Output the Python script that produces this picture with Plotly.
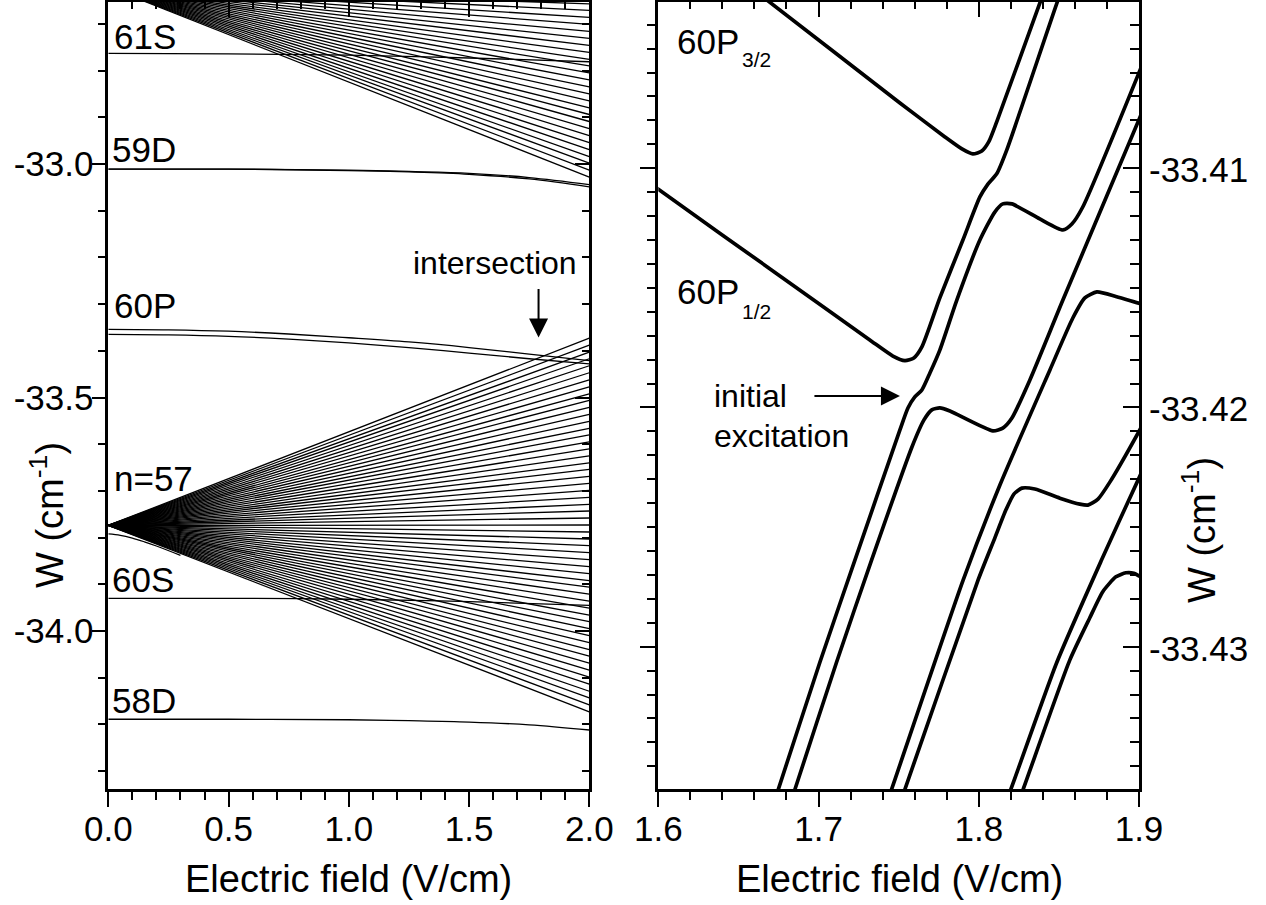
import numpy as np
import plotly.graph_objects as go

FIG_W, FIG_H = 1266, 905
FONT = "Liberation Sans, Arial, Helvetica, sans-serif"

# ---------------- left panel: Stark map, 0-2 V/cm ----------------
# hydrogenic manifolds: common zero-field energy and energies at 2.0 V/cm
n57_origin = -33.774
n57_end = [-33.373, -33.388, -33.403, -33.417, -33.432, -33.447, -33.462, -33.477, -33.492, -33.506,
           -33.521, -33.536, -33.551, -33.566, -33.580, -33.595, -33.610, -33.625, -33.640, -33.654,
           -33.669, -33.684, -33.699, -33.714, -33.729, -33.743, -33.758, -33.773, -33.788, -33.803,
           -33.817, -33.832, -33.847, -33.862, -33.877, -33.892, -33.906, -33.921, -33.936, -33.951,
           -33.966, -33.980, -33.995, -34.010, -34.025, -34.040, -34.054, -34.069, -34.084, -34.099,
           -34.114, -34.129, -34.143, -34.158, -34.173]
n58_origin = -32.621
n58_end = [-33.028, -33.013, -32.998, -32.984, -32.969, -32.954, -32.939, -32.924, -32.909, -32.894,
           -32.880, -32.865, -32.850, -32.835, -32.820, -32.805, -32.790, -32.776, -32.761, -32.746,
           -32.731, -32.716, -32.701, -32.686, -32.671, -32.657]

# low-l states
s61_E = [0.0, 0.5, 1.0, 1.5, 2.0]
s61_W = [-32.763, -32.764, -32.767, -32.773, -32.781]
d59_E = [0.0, 0.5, 1.0, 1.25, 1.5, 1.75, 2.0]
d59a_W = [-33.011, -33.011, -33.014, -33.017, -33.022, -33.032, -33.049]
d59b_W = [-33.011, -33.011, -33.013, -33.016, -33.020, -33.029, -33.044]
p60_E = [0.0, 0.25, 0.5, 0.75, 1.0, 1.25, 1.5, 1.75, 2.0]
p60_32_W = [-33.354, -33.355, -33.358, -33.364, -33.372, -33.381, -33.393, -33.407, -33.421]
p60_12_W = [-33.365, -33.366, -33.369, -33.375, -33.383, -33.393, -33.405, -33.417, -33.428]
f57_E = [0.0, 0.05, 0.1, 0.15, 0.2, 0.3]
f57_W = [-33.792, -33.795, -33.801, -33.809, -33.818, -33.838]
s60_E = [0.0, 0.5, 1.0, 1.5, 2.0]
s60_W = [-33.930, -33.930, -33.932, -33.937, -33.945]
d58_E = [0.0, 0.5, 1.0, 1.25, 1.5, 1.75, 2.0]
d58_W = [-34.189, -34.189, -34.190, -34.192, -34.195, -34.201, -34.212]

# ---------------- right panel: avoided crossings, 1.6-1.9 V/cm ----------------
c1_E = [1.6510, 1.6676, 1.7508, 1.7789, 1.7895, 1.7963, 1.8019, 1.8062, 1.8112, 1.8381, 1.8444]
c1_W = [-33.40213, -33.40296, -33.40727, -33.40869, -33.40919, -33.40940, -33.40928, -33.40890,
        -33.40806, -33.40310, -33.40196]
c2_E = [1.5948, 1.6000, 1.6759, 1.7320, 1.7464, 1.7539, 1.7595, 1.7645, 1.7757, 1.7901, 1.8007,
        1.8057, 1.8113, 1.8175, 1.8495, 1.8543]
c2_W = [-33.41061, -33.41088, -33.41450, -33.41718, -33.41785, -33.41804, -33.41793, -33.41747,
        -33.41542, -33.41300, -33.41120, -33.41066, -33.41022, -33.40923, -33.40296, -33.40213]
c3_E = [1.6697, 1.6749, 1.7009, 1.7227, 1.7508, 1.7558, 1.7601, 1.7645, 1.7695, 1.7757, 1.7863,
        1.8007, 1.8100, 1.8150, 1.8207, 1.8381, 1.8525, 1.8581, 1.8649, 1.8999, 1.9068]
c3_W = [-33.43699, -33.43596, -33.43064, -33.42638, -33.42094, -33.42002, -33.41956, -33.41927,
        -33.41856, -33.41760, -33.41551, -33.41300, -33.41183, -33.41149, -33.41149, -33.41212,
        -33.41258, -33.41233, -33.41162, -33.40602, -33.40485]
c4_E = [1.6803, 1.6853, 1.7113, 1.7331, 1.7583, 1.7658, 1.7707, 1.7757, 1.7820, 1.8088, 1.8150,
        1.8207, 1.8319, 1.8525, 1.8999, 1.9067]
c4_W = [-33.43699, -33.43596, -33.43064, -33.42638, -33.42165, -33.42052, -33.42010, -33.42002,
        -33.42015, -33.42098, -33.42086, -33.42044, -33.41885, -33.41551, -33.40798, -33.40689]
c5_E = [1.7402, 1.7456, 1.7903, 1.8132, 1.8444, 1.8587, 1.8662, 1.8737, 1.8860, 1.8999, 1.9067]
c5_W = [-33.43699, -33.43596, -33.42721, -33.42324, -33.41843, -33.41626, -33.41542, -33.41517,
        -33.41537, -33.41564, -33.41576]
c6_E = [1.7483, 1.7539, 1.7996, 1.8100, 1.8169, 1.8219, 1.8269, 1.8350, 1.8506, 1.8631, 1.8681,
        1.8744, 1.8818, 1.8999, 1.9067]
c6_W = [-33.43699, -33.43596, -33.42721, -33.42546, -33.42429, -33.42362, -33.42337, -33.42341,
        -33.42379, -33.42404, -33.42408, -33.42383, -33.42312, -33.42101, -33.42015]
c7_E = [1.8138, 1.8200, 1.8485, 1.8766, 1.8999, 1.9067]
c7_W = [-33.43699, -33.43596, -33.43069, -33.42638, -33.42296, -33.42199]
c8_E = [1.8219, 1.8277, 1.8568, 1.8693, 1.8774, 1.8856, 1.8918, 1.8968, 1.8999, 1.9067]
c8_W = [-33.43699, -33.43596, -33.43056, -33.42879, -33.42770, -33.42708, -33.42691, -33.42693,
        -33.42704, -33.42725]

# tick labels
left_x_ticks = [0.0, 0.5, 1.0, 1.5, 2.0]
left_x_text = ["0.0", "0.5", "1.0", "1.5", "2.0"]
left_y_ticks = [-34.0, -33.5, -33.0]
left_y_text = ["-34.0", "-33.5", "-33.0"]
right_x_ticks = [1.6, 1.7, 1.8, 1.9]
right_x_text = ["1.6", "1.7", "1.8", "1.9"]
right_y_ticks = [-33.43, -33.42, -33.41]
right_y_text = ["-33.43", "-33.42", "-33.41"]

# ---------------- layout geometry (pixels -> paper) ----------------
def px(x):
    return x / FIG_W


def py(y):
    return 1 - y / FIG_H


X_LEFT = [px(108.3), px(589.3)]
X_RIGHT = [px(658.3), px(1139.0)]
Y_DOM = [py(789.3), py(1.5)]
LEFT_XR = [0.0, 2.0]
LEFT_YR = [-34.33897, -32.65203]
RIGHT_XR = [1.6, 1.9]
RIGHT_YR = [-33.43596, -33.40303]

fig = go.Figure()

thin = dict(color="black", width=1.3)
thick = dict(color="black", width=3.7, shape="spline", smoothing=0.6)


def fan(origin, ends):
    xs, ys = [], []
    for e in ends:
        xs += [0.0, 2.0, None]
        ys += [origin, e, None]
    return xs, ys


for origin, ends in [(n57_origin, n57_end), (n58_origin, n58_end)]:
    fx, fy = fan(origin, ends)
    fig.add_trace(go.Scatter(x=fx, y=fy, mode="lines", line=thin, xaxis="x", yaxis="y",
                             hoverinfo="skip", showlegend=False))

for ex, wy in [(s61_E, s61_W), (d59_E, d59a_W), (d59_E, d59b_W), (p60_E, p60_32_W),
               (p60_E, p60_12_W), (f57_E, f57_W), (s60_E, s60_W), (d58_E, d58_W)]:
    fig.add_trace(go.Scatter(x=ex, y=wy, mode="lines", line=dict(color="black", width=1.3, shape="spline"),
                             xaxis="x", yaxis="y", hoverinfo="skip", showlegend=False))

for ex, wy in [(c1_E, c1_W), (c2_E, c2_W), (c3_E, c3_W), (c4_E, c4_W),
               (c5_E, c5_W), (c6_E, c6_W), (c7_E, c7_W), (c8_E, c8_W)]:
    fig.add_trace(go.Scatter(x=ex, y=wy, mode="lines", line=thick, xaxis="x2", yaxis="y2",
                             hoverinfo="skip", showlegend=False))

# empty traces so that every frame axis (top / right sides) owns a subplot
for xa, ya in [("x3", "y"), ("x", "y3"), ("x4", "y2"), ("x2", "y4")]:
    fig.add_trace(go.Scatter(x=[None], y=[None], mode="lines", xaxis=xa, yaxis=ya,
                             hoverinfo="skip", showlegend=False))

TICK_SIZE = 35
tickfont = dict(family=FONT, size=TICK_SIZE, color="black")


def axis(domain, rng, ticks, ticklen, minor_vals, minor_ticks, minor_len, **kw):
    d = dict(domain=domain, range=rng, showline=True, linecolor="black", linewidth=2.6,
             showgrid=False, zeroline=False, ticks=ticks, ticklen=ticklen, tickwidth=2.4,
             tickcolor="black", tickfont=tickfont, fixedrange=True,
             minor=dict(tickmode="array", tickvals=minor_vals, ticks=minor_ticks, ticklen=minor_len,
                        tickwidth=2.4, tickcolor="black", showgrid=False))
    d.update(kw)
    return d


lx_minor = list(np.round(np.arange(0.0, 2.0001, 0.1), 3))
ly_minor = list(np.round(np.arange(-34.3, -32.6, 0.1), 3))
rx_minor = list(np.round(np.arange(1.6, 1.9001, 0.02), 3))
ry_minor = list(np.round(np.arange(-33.435, -33.403, 0.001), 4))

fig.update_layout(
    # left panel: labelled bottom/left axes, inward-ticked top/right frame
    xaxis=axis(X_LEFT, LEFT_XR, "outside", 15, lx_minor, "outside", 8, anchor="y",
               tickmode="array", tickvals=left_x_ticks, ticktext=left_x_text, ticklabelstandoff=-8),
    yaxis=axis(Y_DOM, LEFT_YR, "outside", 14, ly_minor, "outside", 8, anchor="x",
               tickmode="array", tickvals=left_y_ticks, ticktext=left_y_text, ticklabelstandoff=-9),
    xaxis3=axis(X_LEFT, LEFT_XR, "inside", 16, lx_minor, "inside", 8, anchor="y", overlaying="x",
                side="top", tickmode="array", tickvals=left_x_ticks, showticklabels=False),
    yaxis3=axis(Y_DOM, LEFT_YR, "inside", 15, ly_minor, "inside", 8, anchor="x", overlaying="y",
                side="right", tickmode="array", tickvals=left_y_ticks, showticklabels=False),
    # right panel
    xaxis2=axis(X_RIGHT, RIGHT_XR, "outside", 15, rx_minor, "outside", 8, anchor="y2",
                tickmode="array", tickvals=right_x_ticks, ticktext=right_x_text, ticklabelstandoff=-8),
    yaxis2=axis(Y_DOM, RIGHT_YR, "outside", 16, ry_minor, "outside", 9, anchor="x2",
                tickmode="array", tickvals=right_y_ticks, showticklabels=False),
    xaxis4=axis(X_RIGHT, RIGHT_XR, "inside", 16, rx_minor, "inside", 8, anchor="y2", overlaying="x2",
                side="top", tickmode="array", tickvals=right_x_ticks, showticklabels=False),
    yaxis4=axis(Y_DOM, RIGHT_YR, "inside", 16, ry_minor, "inside", 9, anchor="x2", overlaying="y2",
                side="right", tickmode="array", tickvals=right_y_ticks, showticklabels=False),
)

annotations = []


def label(text, x, y, size=35, xanchor="left", yanchor="middle", angle=0):
    annotations.append(dict(text=text, x=px(x), y=py(y), xref="paper", yref="paper",
                            xanchor=xanchor, yanchor=yanchor, showarrow=False, textangle=angle,
                            borderpad=0, borderwidth=0,
                            font=dict(family=FONT, size=size, color="black")))


# energy tick labels on the right-hand axis of the right panel
for val, txt in zip(right_y_ticks, right_y_text):
    annotations.append(dict(text=txt, x=px(1149), y=val, xref="paper", yref="y2", yshift=-1.5,
                            xanchor="left", yanchor="middle", showarrow=False,
                            borderpad=0, borderwidth=0, font=tickfont))

# state labels, left panel
label("61S", 114, 36)
label("59D", 112, 149.5)
label("60P", 114, 305)
label("n=57", 114, 478)
label("60S", 112, 579.5)
label("58D", 112, 700)
label("intersection", 577, 263, size=32, xanchor="right")

# state labels, right panel
label("60P", 677, 41.5)
label("3/2", 742, 59, size=21)
label("60P", 677, 291)
label("1/2", 742, 311, size=21)
label("initial", 714, 396, size=32)
label("excitation", 714, 436, size=32)

# axis titles
label("Electric field (V/cm)", 348.5, 879, size=38, xanchor="center")
label("Electric field (V/cm)", 899, 879, size=38, xanchor="center")
label("W (cm<sup>-1</sup>)", 47, 515, size=38, xanchor="center", angle=-90)
label("W (cm<sup>-1</sup>)", 1199, 530, size=38, xanchor="center", angle=-90)

# arrows
annotations.append(dict(x=1.789, y=-33.3715, xref="x", yref="y", ax=0, ay=-50,
                        showarrow=True, arrowhead=2, arrowsize=1.9, arrowwidth=2,
                        arrowcolor="black", text=""))
annotations.append(dict(x=1.7508, y=-33.41952, xref="x2", yref="y2", ax=-87, ay=0,
                        showarrow=True, arrowhead=2, arrowsize=1.9, arrowwidth=2,
                        arrowcolor="black", text=""))

fig.update_layout(
    annotations=annotations,
    width=FIG_W, height=FIG_H,
    margin=dict(l=0, r=0, t=0, b=0),
    paper_bgcolor="white", plot_bgcolor="white",
    showlegend=False,
    template="none",
)

fig.write_html("out.html")
